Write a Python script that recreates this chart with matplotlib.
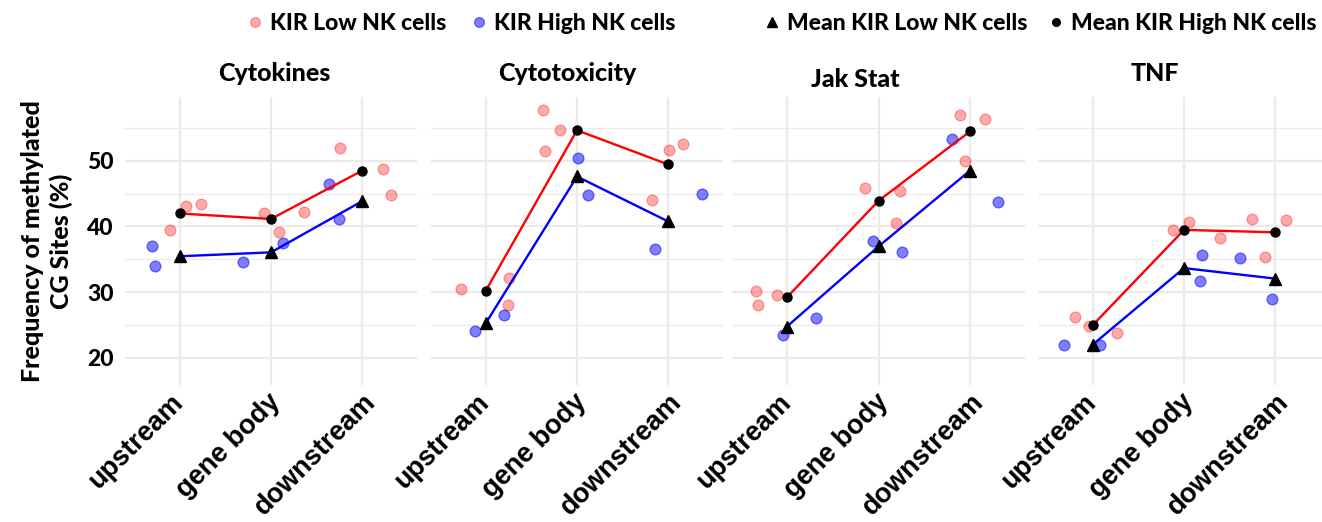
import numpy as np
import matplotlib
matplotlib.use("Agg")
from matplotlib import pyplot as plt
from matplotlib.lines import Line2D
from matplotlib.transforms import ScaledTranslation


# values
panels = ["Cytokines", "Cytotoxicity", "Jak Stat", "TNF"]
regions = ["upstream", "gene body", "downstream"]

# KIR Low NK cells (pink dots), 3 samples per region, per panel
low_values = [
    [[39.4, 43.1, 43.4], [42.1, 39.1, 42.2], [52.0, 48.7, 44.8]],
    [[30.5, 32.1, 28.0], [57.7, 54.7, 51.5], [51.7, 52.6, 44.0]],
    [[30.1, 28.0, 29.5], [45.8, 45.4, 40.5], [57.0, 56.4, 50.0]],
    [[26.2, 24.9, 23.8], [39.4, 40.7, 38.3], [41.1, 40.9, 35.3]],
]
# horizontal jitter of those dots (category units)
low_jitter = [
    [[-0.11, 0.07, 0.23], [-0.08, 0.09, 0.36], [-0.24, 0.23, 0.32]],
    [[-0.27, 0.26, 0.24], [-0.37, -0.19, -0.35], [0.01, 0.16, -0.18]],
    [[-0.34, -0.32, -0.11], [-0.15, 0.23, 0.19], [-0.11, 0.16, -0.06]],
    [[-0.20, -0.04, 0.27], [-0.12, 0.06, 0.39], [-0.25, 0.12, -0.11]],
]

# KIR High NK cells (blue dots), 2 samples per region, per panel
high_values = [
    [[37.0, 33.9], [34.6, 37.5], [46.5, 41.2]],
    [[24.0, 26.5], [50.4, 44.8], [45.0, 36.5]],
    [[23.5, 26.0], [37.8, 36.1], [53.3, 43.7]],
    [[22.0, 22.0], [35.6, 31.7], [35.2, 28.9]],
]
high_jitter = [
    [[-0.30, -0.27], [-0.31, 0.13], [-0.36, -0.26]],
    [[-0.12, 0.20], [0.01, 0.12], [0.37, -0.15]],
    [[-0.04, 0.32], [-0.06, 0.26], [-0.20, 0.31]],
    [[-0.31, 0.08], [0.20, 0.18], [-0.39, -0.04]],
]

y_label = "Frequency of methylated\nCG Sites (%)"

W, H = 1322, 522
fig = plt.figure(figsize=(W / 100, H / 100), dpi=100)

title_font = "Lato"
heavy = "black"
tick_font = "Liberation Sans"
grid_col = "#EBEBEB"

# panel placement in pixels (left, right)
panel_px = [(125, 417), (431, 723), (732, 1025), (1038, 1330)]
top_px, bottom_px = 96.7, 385
title_pad = [11.5, 11.5, 6.8, 11.5]
title_shift_px = [3, -10, -23, -29]
# the longer labels sit a little further right in the original
label_shift_px = [0, 6, 10]

x = np.arange(1, len(regions) + 1)

for i, name in enumerate(panels):
    l, r = panel_px[i]
    ax = fig.add_axes([l / W, 1 - bottom_px / H, (r - l) / W, (bottom_px - top_px) / H])
    ax.set_xlim(0.4, 3.6)
    ax.set_ylim(15.85, 59.75)

    for s in ax.spines.values():
        s.set_visible(False)
    ax.set_yticks([20, 30, 40, 50])
    ax.set_yticks([25, 35, 45, 55], minor=True)
    ax.set_xticks(x)
    ax.grid(True, which="major", color=grid_col, lw=1.6)
    ax.grid(True, which="minor", axis="y", color=grid_col, lw=0.9)
    ax.set_axisbelow(True)
    ax.tick_params(which="both", length=0)

    lv = np.array(low_values[i])
    hv = np.array(high_values[i])
    lx = x[:, None] + np.array(low_jitter[i])
    hx = x[:, None] + np.array(high_jitter[i])

    ax.scatter(lx.ravel(), lv.ravel(), s=60, color="#FF0000", alpha=0.33, lw=1, zorder=2)
    ax.scatter(hx.ravel(), hv.ravel(), s=60, color="#0000FF", alpha=0.5, lw=1, zorder=2)

    low_mean = lv.mean(axis=1)
    high_mean = hv.mean(axis=1)
    ax.plot(x, low_mean, color="red", lw=1.7, zorder=3)
    ax.plot(x, high_mean, color="blue", lw=1.7, zorder=3)
    ax.plot(x, low_mean, "o", color="black", ms=6.5, zorder=4)
    ax.plot(x, high_mean, "^", color="black", ms=8, zorder=4)

    ax.set_title(name, fontfamily=title_font, fontweight=heavy, fontsize=18, pad=title_pad[i],
                 x=0.5 + title_shift_px[i] / (r - l))

    ax.set_xticklabels(regions, rotation=45, ha="right", va="center", rotation_mode="anchor",
                       fontfamily=tick_font, fontweight="bold", fontsize=19.5)
    ax.tick_params(axis="x", pad=9.5)
    for lab, dx in zip(ax.get_xticklabels(), label_shift_px):
        lab.set_transform(lab.get_transform() + ScaledTranslation(dx / 100, 0, fig.dpi_scale_trans))

    if i == 0:
        ax.set_yticklabels(["20", "30", "40", "50"], fontfamily=title_font, fontweight=heavy, fontsize=16.5)
        ax.tick_params(axis="y", pad=8)
        ax.set_ylabel(y_label, fontfamily=title_font, fontweight=heavy, fontsize=18,
                      linespacing=1.3, labelpad=10)
    else:
        ax.set_yticklabels([])

leg_font = {"family": title_font, "weight": heavy, "size": 16.5}

h1 = [Line2D([], [], ls="none", marker="o", ms=7, color="#FF0000", alpha=0.33),
      Line2D([], [], ls="none", marker="o", ms=7, color="#0000FF", alpha=0.5)]
fig.legend(h1, ["KIR Low NK cells", "KIR High NK cells"], loc="center",
           bbox_to_anchor=(461 / W, 1 - 24 / H), ncol=2, frameon=False, prop=leg_font,
           handlelength=0.7, handletextpad=0.3, columnspacing=1.1, borderpad=0)

h2 = [Line2D([], [], ls="none", marker="^", ms=7, color="black"),
      Line2D([], [], ls="none", marker="o", ms=5.5, color="black")]
fig.legend(h2, ["Mean KIR Low NK cells", "Mean KIR High NK cells"], loc="center",
           bbox_to_anchor=(1040 / W, 1 - 24 / H), ncol=2, frameon=False, prop=leg_font,
           handlelength=0.7, handletextpad=0.3, columnspacing=0.9, borderpad=0)

fig.savefig("out.png", dpi=100)
